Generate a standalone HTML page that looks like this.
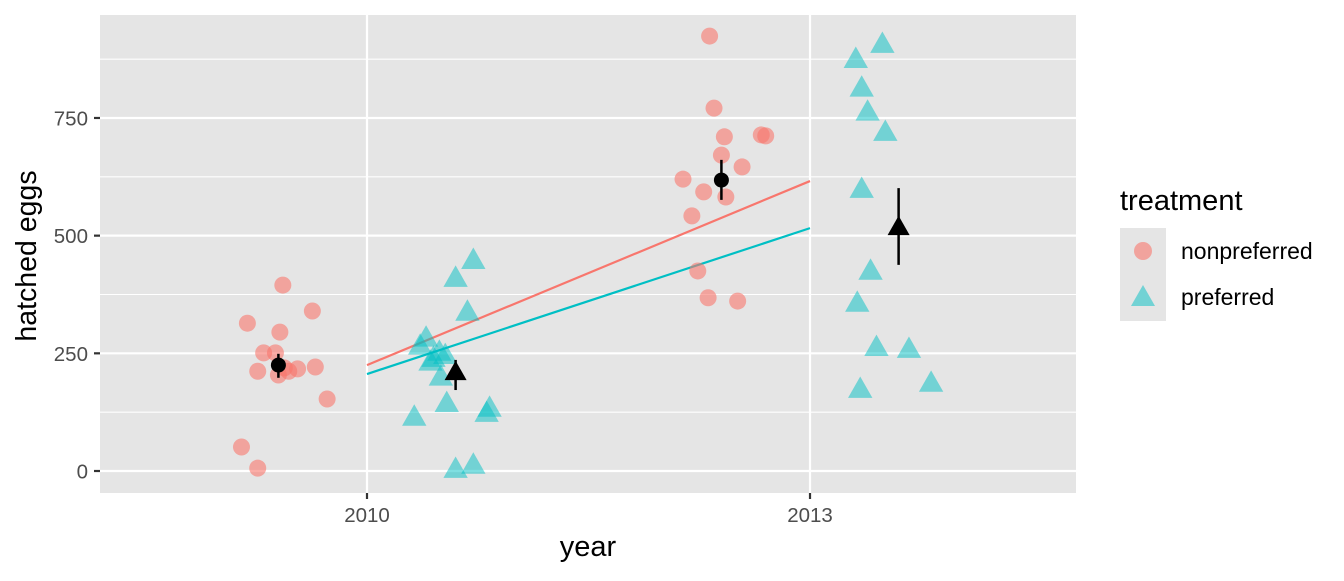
<!DOCTYPE html>
<html><head><meta charset="utf-8"><style>
body{margin:0;background:#fff;}
svg text{font-family:"Liberation Sans",Arial,sans-serif;}
</style></head><body>
<svg id="chart" width="1344" height="576" xmlns="http://www.w3.org/2000/svg">
<rect x="100" y="15" width="976" height="478" fill="#e5e5e5"/>
<g id="grid"></g>
<g id="lines"></g>
<g id="points"></g>
<g id="means"></g>
<g id="axes"></g>
<text x="588" y="556" font-size="29" text-anchor="middle" fill="#000">year</text>
<text transform="translate(36,256) rotate(-90)" font-size="28.5" text-anchor="middle" fill="#000">hatched eggs</text>
<g>
<text x="1120" y="210" font-size="29" fill="#000">treatment</text>
<rect x="1120" y="228" width="46" height="93" fill="#e5e5e5"/>
<circle cx="1143" cy="251" r="9" fill="#F8766D" fill-opacity="0.6"/>
<polygon points="1143,285 1155,306 1131,306" fill="#00BFC4" fill-opacity="0.5"/>
<text x="1181" y="259" font-size="23" fill="#000">nonpreferred</text>
<text x="1181" y="305" font-size="23" fill="#000">preferred</text>
</g>
</svg>
<script>
const npYear=[2009.15,2009.26,2009.19,2009.43,2009.41,2009.30,2009.38,2009.26,2009.44,2009.40,2009.47,2009.53,2009.63,2009.65,2009.73,
2012.32,2012.35,2012.42,2012.40,2012.67,2012.70,2012.54,2012.14,2012.28,2012.43,2012.20,2012.24,2012.31,2012.51];
const npEggs=[51,6,314,395,295,251,251,212,219,204,212,217,340,221,153,
924,771,710,671,714,712,646,620,593,582,542,425,368,361];
const prYear=[2010.72,2010.60,2010.68,2010.40,2010.36,2010.49,2010.45,2010.53,2010.43,2010.50,2010.54,2010.32,2010.81,2010.83,2010.60,2010.72,
2013.49,2013.31,2013.35,2013.39,2013.51,2013.35,2013.41,2013.32,2013.45,2013.67,2013.34,2013.82];
const prEggs=[448,410,338,283,266,253,240,246,232,200,144,115,123,134,4,13,
907,875,814,763,720,599,425,357,263,259,174,187];
const meanYear=[2009.40,2010.60,2012.40,2013.60];
const meanEggs=[225,210,618,518];
const meanLo=[198,172,576,438];
const meanHi=[249,236,661,601];
const meanShape=["circle","triangle","circle","triangle"];
const fitYears=[2010,2013];
const fitNp=[225,616];
const fitPr=[206,516];
const yTicks=[0,250,500,750];
const yMinor=[125,375,625,875];
const xTicks=[2010,2013];

const NS="http://www.w3.org/2000/svg";
const X=v=>367+(v-2010)*147.67;
const Y=v=>471-v*0.4707;
function mk(parent,tag,attrs){const e=document.createElementNS(NS,tag);for(const k in attrs)e.setAttribute(k,attrs[k]);document.getElementById(parent).appendChild(e);return e;}

yMinor.forEach(v=>{const e=mk('grid','line',{x1:100,x2:1076,y1:Y(v),y2:Y(v),stroke:'#fff','stroke-width':1.1});

});
yTicks.forEach(v=>{const e=mk('grid','line',{x1:100,x2:1076,y1:Y(v),y2:Y(v),stroke:'#fff','stroke-width':2.2});


const t=mk('axes','line',{x1:94,x2:100,y1:Y(v),y2:Y(v),stroke:'#333','stroke-width':2.2});


const l=mk('axes','text',{x:88,y:Y(v)+7.5,'font-size':20.5,'text-anchor':'end',fill:'#4d4d4d'});l.textContent=v;

});
xTicks.forEach(v=>{const e=mk('grid','line',{x1:X(v),x2:X(v),y1:15,y2:493,stroke:'#fff','stroke-width':2.2});


const t=mk('axes','line',{x1:X(v),x2:X(v),y1:493,y2:499,stroke:'#333','stroke-width':2.2});


const l=mk('axes','text',{x:X(v),y:522,'font-size':20.5,'text-anchor':'middle',fill:'#4d4d4d'});l.textContent=v;

});

const f1=mk('lines','line',{x1:X(fitYears[0]),y1:Y(fitNp[0]),x2:X(fitYears[1]),y2:Y(fitNp[1]),stroke:'#F8766D','stroke-width':2.2});


const f2=mk('lines','line',{x1:X(fitYears[0]),y1:Y(fitPr[0]),x2:X(fitYears[1]),y2:Y(fitPr[1]),stroke:'#00BFC4','stroke-width':2.2});



function tri(cx,cy,s){return `${cx},${cy-s*0.6} ${cx+s*0.58},${cy+s*0.42} ${cx-s*0.58},${cy+s*0.42}`;}
npYear.forEach((v,i)=>{const c=mk('points','circle',{cx:X(v),cy:Y(npEggs[i]),r:8.5,fill:'#F8766D','fill-opacity':0.6});

});
prYear.forEach((v,i)=>{const p=mk('points','polygon',{points:tri(X(v),Y(prEggs[i]),21),fill:'#00BFC4','fill-opacity':0.5});

});
meanYear.forEach((v,i)=>{const b=mk('means','line',{x1:X(v),x2:X(v),y1:Y(meanLo[i]),y2:Y(meanHi[i]),stroke:'#000','stroke-width':2.5});


let m;
if(meanShape[i]==='circle')m=mk('means','circle',{cx:X(v),cy:Y(meanEggs[i]),r:7.5,fill:'#000'});
else m=mk('means','polygon',{points:tri(X(v),Y(meanEggs[i]),19),fill:'#000'});

});
</script>
</body></html>
